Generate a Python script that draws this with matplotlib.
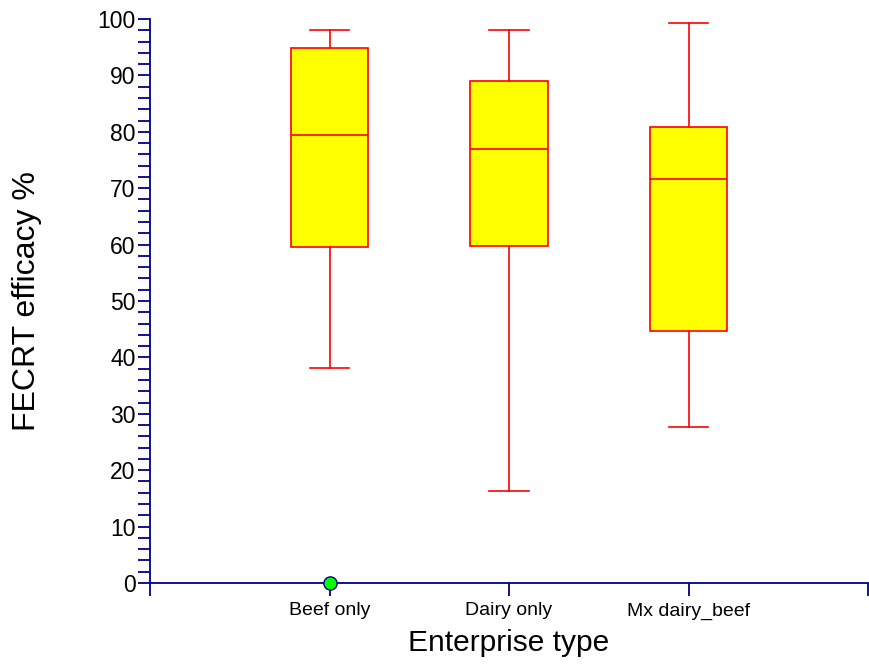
import matplotlib.pyplot as plt
from matplotlib.ticker import MultipleLocator

plt.rcParams["font.family"] = ["Liberation Sans", "DejaVu Sans"]

# box summary values (FECRT efficacy %)
categories = ["Beef only", "Dairy only", "Mx dairy_beef"]
whis_lo = [38.2, 16.4, 27.7]
q1 = [59.6, 59.7, 44.7]
median = [79.4, 77.0, 71.7]
q3 = [94.9, 89.0, 80.8]
whis_hi = [98.0, 98.0, 99.3]
outliers = [[0.0], [], []]

AXIS = "#00008B"

stats = [
    dict(label=c, whislo=lo, q1=a, med=m, q3=b, whishi=hi, fliers=f)
    for c, lo, a, m, b, hi, f in zip(categories, whis_lo, q1, median, q3, whis_hi, outliers)
]

fig = plt.figure(figsize=(8.69, 6.64), dpi=100)
ax = fig.add_axes([150 / 869, 81 / 664, 718 / 869, 564 / 664])

ax.bxp(stats, positions=[1, 2, 3], widths=0.43, patch_artist=True,
       boxprops=dict(facecolor="#FFFF00", edgecolor="#FF0000", linewidth=1.2),
       medianprops=dict(color="#FF0000", linewidth=1.2),
       whiskerprops=dict(color="#FF0000", linewidth=1.2),
       capprops=dict(color="#FF0000", linewidth=1.2),
       capwidths=0.22,
       flierprops=dict(marker="o", markerfacecolor="#00FF00", markeredgecolor=AXIS,
                       markersize=9.5, markeredgewidth=1.0),
       zorder=3)
for line in ax.lines:
    line.set_clip_on(False)

ax.set_xlim(0, 4)
ax.set_ylim(0, 100)
ax.set_xticks([0, 1, 2, 3, 4])
ax.set_xticklabels([""] + categories + [""])
ax.yaxis.set_major_locator(MultipleLocator(10))
ax.yaxis.set_minor_locator(MultipleLocator(2))

for side in ["top", "right"]:
    ax.spines[side].set_visible(False)
for side in ["left", "bottom"]:
    ax.spines[side].set_color(AXIS)
    ax.spines[side].set_linewidth(1.3)

ax.tick_params(axis="y", which="both", direction="out", length=9, width=1.3,
               color=AXIS, labelsize=16.5, pad=1.5)
ax.tick_params(axis="x", which="both", direction="out", length=9, width=1.3,
               color=AXIS, labelsize=14, pad=5)

ax.set_xlabel("Enterprise type", fontsize=21.5, labelpad=7)
ax.set_ylabel("FECRT efficacy %", fontsize=23, labelpad=40)

fig.savefig("out.png", dpi=100)
